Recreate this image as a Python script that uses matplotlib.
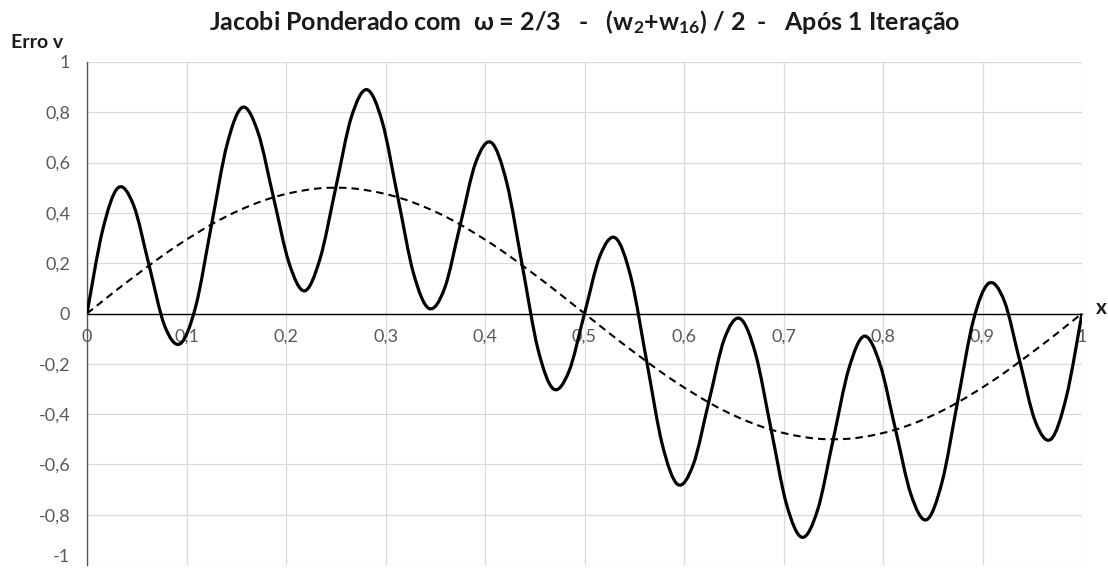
import numpy as np
import matplotlib
matplotlib.use("Agg")
from matplotlib import pyplot as plt
from matplotlib.path import Path
from matplotlib.patches import PathPatch

x_vals = [k / 64 for k in range(65)]
erro_v = [0.0, 0.33, 0.50, 0.43, 0.19, -0.05, -0.12, 0.03, 0.35, 0.67, 0.82, 0.72, 0.46,
          0.20, 0.09, 0.22, 0.50, 0.78, 0.89, 0.76, 0.46, 0.16, 0.02, 0.10, 0.35, 0.60,
          0.68, 0.52, 0.19, -0.14, -0.30, -0.23, 0.0, 0.23, 0.30, 0.14, -0.19, -0.52,
          -0.68, -0.60, -0.35, -0.10, -0.02, -0.16, -0.46, -0.76, -0.89, -0.78, -0.50,
          -0.22, -0.09, -0.20, -0.46, -0.72, -0.82, -0.67, -0.35, -0.03, 0.12, 0.05,
          -0.19, -0.43, -0.50, -0.33, 0.0]
modo_w2 = [0.0, 0.049, 0.098, 0.145, 0.191, 0.236, 0.278, 0.317, 0.354, 0.387, 0.416, 0.441,
           0.462, 0.478, 0.490, 0.498, 0.5, 0.498, 0.490, 0.478, 0.462, 0.441, 0.416, 0.387,
           0.354, 0.317, 0.278, 0.236, 0.191, 0.145, 0.098, 0.049, 0.0, -0.049, -0.098,
           -0.145, -0.191, -0.236, -0.278, -0.317, -0.354, -0.387, -0.416, -0.441, -0.462,
           -0.478, -0.490, -0.498, -0.5, -0.498, -0.490, -0.478, -0.462, -0.441, -0.416,
           -0.387, -0.354, -0.317, -0.278, -0.236, -0.191, -0.145, -0.098, -0.049, 0.0]
x_ticks = [i / 10 for i in range(11)]
y_ticks = [-1, -0.8, -0.6, -0.4, -0.2, 0, 0.2, 0.4, 0.6, 0.8, 1]

def label(v):
    s = "{:g}".format(round(v, 1))
    return s.replace(".", ",")

def smooth_path(xs, ys):
    # smoothed line like the spreadsheet one: cubic bezier through each point
    p = np.column_stack([xs, ys])
    n = len(p)
    verts = [p[0]]
    codes = [Path.MOVETO]
    for i in range(n - 1):
        p0 = p[i - 1] if i > 0 else p[i]
        p3 = p[i + 2] if i + 2 < n else p[i + 1]
        c1 = p[i] + (p[i + 1] - p0) / 6
        c2 = p[i + 1] - (p3 - p[i]) / 6
        verts += [c1, c2, p[i + 1]]
        codes += [Path.CURVE4] * 3
    return Path(verts, codes)

plt.rcParams['font.family'] = ['Lato', 'DejaVu Sans']
plt.rcParams['mathtext.default'] = 'regular'

fig = plt.figure(figsize=(11.08, 5.75), dpi=100)
ax = fig.add_axes([87 / 1108, 1 - 565 / 575, 995 / 1108, 503 / 575])
ax.set_xlim(0, 1)
ax.set_ylim(-1, 1)

ax.add_patch(PathPatch(smooth_path(x_vals, modo_w2), transform=ax.transData,
                       fill=False, edgecolor='black', lw=1.5, linestyle=(0, (3.6, 2.4)),
                       zorder=3))
ax.add_patch(PathPatch(smooth_path(x_vals, erro_v), transform=ax.transData,
                       fill=False, edgecolor='black', lw=2.3, zorder=4))

ax.set_xticks(x_ticks)
ax.set_xticklabels([label(v) for v in x_ticks])
ax.set_yticks(y_ticks)
ax.set_yticklabels([label(v) for v in y_ticks])
ax.grid(True, color='#d9d9d9', lw=0.9)
ax.set_axisbelow(True)
ax.tick_params(length=0, labelsize=13, colors='#595959')
ax.tick_params(axis='y', pad=12)
ax.tick_params(axis='x', pad=11)
# keep the bottom label inside the picture
ax.get_yticklabels()[0].set_va('bottom')

for side in ['top', 'right']:
    ax.spines[side].set_visible(False)
ax.spines['bottom'].set_position(('data', 0))
ax.spines['bottom'].set_color('black')
ax.spines['bottom'].set_linewidth(1.0)
ax.spines['left'].set_color('#595959')
ax.spines['left'].set_linewidth(1.0)
ax.spines['bottom'].set_zorder(2)

fig.text(585 / 1108, 1 - 22 / 575,
         "Jacobi Ponderado com  ω = 2/3   -   (w$_2$+w$_{16}$) / 2  -   Após 1 Iteração",
         ha='center', va='center', fontsize=18, fontweight='bold', color='#1a1a1a')
fig.text(11 / 1108, 1 - 43 / 575, "Erro v", ha='left', va='center', fontsize=14,
         fontweight='bold', color='#1a1a1a')
fig.text(1101 / 1108, 1 - 308 / 575, "x", ha='center', va='center', fontsize=15,
         fontweight='bold', color='#1a1a1a')

plt.savefig("out.png", dpi=100)
